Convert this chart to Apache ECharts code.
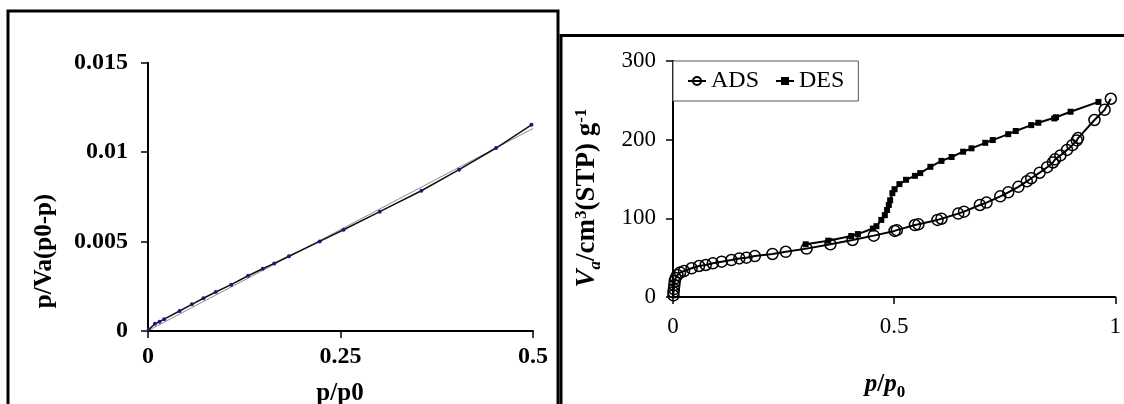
<!DOCTYPE html>
<html>
<head>
<meta charset="utf-8">
<script src="https://cdn.jsdelivr.net/npm/echarts@6/dist/echarts.min.js"></script>
<style>
  html, body { margin: 0; padding: 0; background: #fff; }
  #chart { width: 1124px; height: 404px; }
</style>
</head>
<body>
<div id="chart"></div>
<script>
// left panel: BET plot
const betX = [0.001, 0.009, 0.015, 0.021, 0.041, 0.057, 0.072, 0.088, 0.108, 0.130, 0.149, 0.164, 0.183, 0.223, 0.254, 0.301, 0.355, 0.404, 0.452, 0.498];
const betY = [0.00008, 0.00040, 0.00052, 0.00066, 0.00112, 0.00149, 0.00183, 0.00218, 0.00259, 0.00309, 0.00348, 0.00378, 0.00418, 0.00501, 0.00566, 0.00667, 0.00784, 0.00902, 0.01023, 0.01153];
const fitX = [0, 0.5];
const fitY = [0.00002, 0.01132];

// right panel: isotherm
const adsX = [0.001, 0.001, 0.002, 0.003, 0.004, 0.006, 0.010, 0.016, 0.025, 0.042, 0.059, 0.074, 0.090, 0.110, 0.132, 0.150, 0.166, 0.185, 0.225, 0.255, 0.302, 0.356, 0.406, 0.454, 0.501, 0.506, 0.547, 0.555, 0.598, 0.607, 0.645, 0.658, 0.694, 0.709, 0.740, 0.758, 0.781, 0.800, 0.810, 0.829, 0.846, 0.859, 0.864, 0.876, 0.891, 0.903, 0.913, 0.916, 0.953, 0.976, 0.990];
const adsY = [2, 6, 10, 15, 20, 24, 28, 31, 33, 36.5, 39.4, 40.7, 42.8, 44.9, 47, 49, 50, 52, 54.7, 57.5, 61.5, 67, 72.5, 78, 84, 85, 91.5, 92.4, 98, 99.5, 106, 108.5, 117, 120, 128, 133, 140, 147, 151, 158, 165, 171, 175, 180, 187, 193, 199, 202, 225, 238, 252];
const desX = [0.962, 0.899, 0.866, 0.862, 0.826, 0.810, 0.775, 0.758, 0.723, 0.706, 0.675, 0.656, 0.630, 0.607, 0.582, 0.559, 0.547, 0.527, 0.512, 0.501, 0.496, 0.491, 0.488, 0.484, 0.479, 0.471, 0.460, 0.452, 0.418, 0.403, 0.351, 0.300];
const desY = [248, 235.5, 228.5, 227, 221.5, 218.5, 211, 207, 199.5, 196, 189, 184.7, 178, 173, 165.5, 157.5, 154, 149, 143.5, 137, 132, 123, 117, 110.6, 104, 98, 90, 87, 80, 77.5, 71.6, 67];

const leftTicksX = [0, 0.25, 0.5];
const leftTicksY = [0, 0.005, 0.01, 0.015];
const rightTicksX = [0, 0.5, 1];
const rightTicksY = [0, 100, 200, 300];

const serif = 'Liberation Serif, Times New Roman, serif';
const zip = (xs, ys) => xs.map((x, i) => [x, ys[i]]);
const fmt = v => String(parseFloat(v.toFixed(4)));

const axisCommon = (bold, size, margin) => ({
  axisLine: { lineStyle: { color: '#000', width: 2 } },
  axisTick: { inside: false, length: 7, lineStyle: { color: '#000', width: 1.5 } },
  splitLine: { show: false },
  axisLabel: { color: '#000', fontFamily: serif, fontSize: size, fontWeight: bold ? 'bold' : 'normal', margin: margin, formatter: fmt }
});

const chart = echarts.init(document.getElementById('chart'));
chart.setOption({
  backgroundColor: '#fff',
  animation: false,
  grid: [
    { left: 148, top: 62.7, width: 385, height: 268.3 },
    { left: 673, top: 61, width: 443, height: 236 }
  ],
  xAxis: [
    Object.assign({ type: 'value', gridIndex: 0, min: leftTicksX[0], max: leftTicksX[2], interval: 0.25 }, axisCommon(true, 24, 14)),
    Object.assign({ type: 'value', gridIndex: 1, min: rightTicksX[0], max: rightTicksX[2], interval: 0.5 }, axisCommon(false, 23, 18))
  ],
  yAxis: [
    Object.assign({ type: 'value', gridIndex: 0, min: leftTicksY[0], max: leftTicksY[3], interval: 0.005 }, axisCommon(true, 24, 20)),
    Object.assign({ type: 'value', gridIndex: 1, min: rightTicksY[0], max: rightTicksY[3], interval: 100 }, axisCommon(false, 23, 17))
  ],
  legend: {
    data: ['ADS', 'DES'],
    left: 673, top: 61,
    padding: [8, 14, 8, 14],
    itemWidth: 18, itemHeight: 10, itemGap: 16,
    backgroundColor: '#fff',
    borderColor: '#555', borderWidth: 1, borderRadius: 0,
    textStyle: { fontFamily: serif, fontSize: 24, color: '#000' }
  },
  series: [
    {
      name: 'fit', type: 'line', xAxisIndex: 0, yAxisIndex: 0,
      data: zip(fitX, fitY), symbol: 'none',
      lineStyle: { color: '#8c8c8c', width: 1 }
    },
    {
      name: 'BET', type: 'line', xAxisIndex: 0, yAxisIndex: 0,
      data: zip(betX, betY), symbol: 'circle', symbolSize: 4,
      itemStyle: { color: '#1a1a80' },
      lineStyle: { color: '#111', width: 1.5 }
    },
    {
      name: 'DES', type: 'line', xAxisIndex: 1, yAxisIndex: 1,
      data: zip(desX, desY), symbol: 'rect', symbolSize: 6,
      itemStyle: { color: '#000' },
      lineStyle: { color: '#000', width: 2 }
    },
    {
      name: 'ADS', type: 'line', xAxisIndex: 1, yAxisIndex: 1,
      data: zip(adsX, adsY), symbol: 'circle', symbolSize: 11,
      itemStyle: { color: 'rgba(255,255,255,0)', borderColor: '#000', borderWidth: 1.5 },
      lineStyle: { color: '#000', width: 2 }
    }
  ],
  graphic: [
    // panel frames
    { type: 'rect', shape: { x: 8, y: 11, width: 550, height: 420 }, style: { fill: 'none', stroke: '#000', lineWidth: 3 }, z: 100 },
    { type: 'rect', shape: { x: 561, y: 35.5, width: 600, height: 420 }, style: { fill: 'none', stroke: '#000', lineWidth: 3 }, z: 100 },
    // axis titles
    {
      type: 'text', x: 45, y: 251, rotation: Math.PI / 2,
      style: { text: 'p/Va(p0-p)', font: 'bold 25px ' + serif, fill: '#000', align: 'center', verticalAlign: 'middle' }
    },
    {
      type: 'text', x: 340, y: 394,
      style: { text: 'p/p0', font: 'bold 25px ' + serif, fill: '#000', align: 'center', verticalAlign: 'middle' }
    },
    {
      type: 'text', x: 587, y: 198, rotation: Math.PI / 2,
      style: {
        text: '{i|V}{s|a}{b|/cm}{u|3}{b|(STP) g}{u|-1}',
        align: 'center', verticalAlign: 'middle', fill: '#000',
        rich: {
          i: { fontFamily: serif, fontSize: 27, fontWeight: 'bold', fontStyle: 'italic', verticalAlign: 'bottom' },
          s: { fontFamily: serif, fontSize: 17, fontWeight: 'bold', fontStyle: 'italic', verticalAlign: 'bottom', padding: [0, 0, -4, 0] },
          b: { fontFamily: serif, fontSize: 27, fontWeight: 'bold', verticalAlign: 'bottom' },
          u: { fontFamily: serif, fontSize: 17, fontWeight: 'bold', verticalAlign: 'top', padding: [0, 0, 9, 0] }
        }
      }
    },
    {
      type: 'text', x: 885, y: 385,
      style: {
        text: '{i|p}{b|/}{i|p}{s|0}',
        align: 'center', verticalAlign: 'middle', fill: '#000',
        rich: {
          i: { fontFamily: serif, fontSize: 25, fontWeight: 'bold', fontStyle: 'italic', verticalAlign: 'bottom' },
          b: { fontFamily: serif, fontSize: 25, fontWeight: 'bold', verticalAlign: 'bottom' },
          s: { fontFamily: serif, fontSize: 17, fontWeight: 'bold', verticalAlign: 'bottom', padding: [0, 0, -4, 0] }
        }
      }
    }
  ]
});
</script>
</body>
</html>
